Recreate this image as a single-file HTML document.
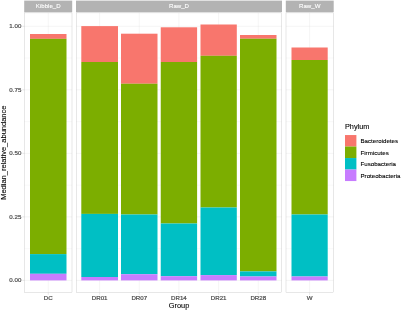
<!DOCTYPE html><html><head><meta charset="utf-8"><style>html,body{margin:0;padding:0;background:#fff}svg{display:block;will-change:transform;transform:translateZ(0)}text{font-family:"Liberation Sans",sans-serif;stroke-width:0.22px;paint-order:stroke}.t{stroke:#4D4D4D}.k{stroke:#000;stroke-width:0.1px}.w{stroke:#fff;stroke-width:0.1px}</style></head><body>
<svg width="401" height="311" viewBox="0 0 401 311">
<rect width="401" height="311" fill="#fff"/>
<line x1="24.4" x2="72.0" y1="248.64" y2="248.64" stroke="#DEDEDE" stroke-width="0.2"/>
<line x1="24.4" x2="72.0" y1="185.11" y2="185.11" stroke="#DEDEDE" stroke-width="0.2"/>
<line x1="24.4" x2="72.0" y1="121.59" y2="121.59" stroke="#DEDEDE" stroke-width="0.2"/>
<line x1="24.4" x2="72.0" y1="58.06" y2="58.06" stroke="#DEDEDE" stroke-width="0.2"/>
<line x1="24.4" x2="72.0" y1="280.40" y2="280.40" stroke="#DEDEDE" stroke-width="0.3"/>
<line x1="24.4" x2="72.0" y1="216.87" y2="216.87" stroke="#DEDEDE" stroke-width="0.3"/>
<line x1="24.4" x2="72.0" y1="153.35" y2="153.35" stroke="#DEDEDE" stroke-width="0.3"/>
<line x1="24.4" x2="72.0" y1="89.82" y2="89.82" stroke="#DEDEDE" stroke-width="0.3"/>
<line x1="24.4" x2="72.0" y1="26.30" y2="26.30" stroke="#DEDEDE" stroke-width="0.3"/>
<line x1="76.2" x2="281.8" y1="248.64" y2="248.64" stroke="#DEDEDE" stroke-width="0.2"/>
<line x1="76.2" x2="281.8" y1="185.11" y2="185.11" stroke="#DEDEDE" stroke-width="0.2"/>
<line x1="76.2" x2="281.8" y1="121.59" y2="121.59" stroke="#DEDEDE" stroke-width="0.2"/>
<line x1="76.2" x2="281.8" y1="58.06" y2="58.06" stroke="#DEDEDE" stroke-width="0.2"/>
<line x1="76.2" x2="281.8" y1="280.40" y2="280.40" stroke="#DEDEDE" stroke-width="0.3"/>
<line x1="76.2" x2="281.8" y1="216.87" y2="216.87" stroke="#DEDEDE" stroke-width="0.3"/>
<line x1="76.2" x2="281.8" y1="153.35" y2="153.35" stroke="#DEDEDE" stroke-width="0.3"/>
<line x1="76.2" x2="281.8" y1="89.82" y2="89.82" stroke="#DEDEDE" stroke-width="0.3"/>
<line x1="76.2" x2="281.8" y1="26.30" y2="26.30" stroke="#DEDEDE" stroke-width="0.3"/>
<line x1="286.0" x2="333.5" y1="248.64" y2="248.64" stroke="#DEDEDE" stroke-width="0.2"/>
<line x1="286.0" x2="333.5" y1="185.11" y2="185.11" stroke="#DEDEDE" stroke-width="0.2"/>
<line x1="286.0" x2="333.5" y1="121.59" y2="121.59" stroke="#DEDEDE" stroke-width="0.2"/>
<line x1="286.0" x2="333.5" y1="58.06" y2="58.06" stroke="#DEDEDE" stroke-width="0.2"/>
<line x1="286.0" x2="333.5" y1="280.40" y2="280.40" stroke="#DEDEDE" stroke-width="0.3"/>
<line x1="286.0" x2="333.5" y1="216.87" y2="216.87" stroke="#DEDEDE" stroke-width="0.3"/>
<line x1="286.0" x2="333.5" y1="153.35" y2="153.35" stroke="#DEDEDE" stroke-width="0.3"/>
<line x1="286.0" x2="333.5" y1="89.82" y2="89.82" stroke="#DEDEDE" stroke-width="0.3"/>
<line x1="286.0" x2="333.5" y1="26.30" y2="26.30" stroke="#DEDEDE" stroke-width="0.3"/>
<line x1="48.25" x2="48.25" y1="12.9" y2="292.7" stroke="#DEDEDE" stroke-width="0.3"/>
<line x1="99.65" x2="99.65" y1="12.9" y2="292.7" stroke="#DEDEDE" stroke-width="0.3"/>
<line x1="139.25" x2="139.25" y1="12.9" y2="292.7" stroke="#DEDEDE" stroke-width="0.3"/>
<line x1="178.93" x2="178.93" y1="12.9" y2="292.7" stroke="#DEDEDE" stroke-width="0.3"/>
<line x1="218.65" x2="218.65" y1="12.9" y2="292.7" stroke="#DEDEDE" stroke-width="0.3"/>
<line x1="258.25" x2="258.25" y1="12.9" y2="292.7" stroke="#DEDEDE" stroke-width="0.3"/>
<line x1="309.60" x2="309.60" y1="12.9" y2="292.7" stroke="#DEDEDE" stroke-width="0.3"/>
<rect x="30.0" y="34.00" width="36.50" height="4.85" fill="#F8766D"/>
<rect x="30.0" y="38.85" width="36.50" height="215.25" fill="#7CAE00"/>
<rect x="30.0" y="254.10" width="36.50" height="19.70" fill="#00BFC4"/>
<rect x="30.0" y="273.80" width="36.50" height="6.60" fill="#C77CFF"/>
<rect x="81.3" y="26.10" width="36.70" height="35.90" fill="#F8766D"/>
<rect x="81.3" y="62.00" width="36.70" height="151.90" fill="#7CAE00"/>
<rect x="81.3" y="213.90" width="36.70" height="63.10" fill="#00BFC4"/>
<rect x="81.3" y="277.00" width="36.70" height="3.40" fill="#C77CFF"/>
<rect x="121.0" y="33.70" width="36.50" height="50.05" fill="#F8766D"/>
<rect x="121.0" y="83.75" width="36.50" height="130.75" fill="#7CAE00"/>
<rect x="121.0" y="214.50" width="36.50" height="59.70" fill="#00BFC4"/>
<rect x="121.0" y="274.20" width="36.50" height="6.20" fill="#C77CFF"/>
<rect x="160.75" y="27.30" width="36.35" height="34.70" fill="#F8766D"/>
<rect x="160.75" y="62.00" width="36.35" height="161.50" fill="#7CAE00"/>
<rect x="160.75" y="223.50" width="36.35" height="52.70" fill="#00BFC4"/>
<rect x="160.75" y="276.20" width="36.35" height="4.20" fill="#C77CFF"/>
<rect x="200.5" y="24.50" width="36.30" height="31.30" fill="#F8766D"/>
<rect x="200.5" y="55.80" width="36.30" height="151.70" fill="#7CAE00"/>
<rect x="200.5" y="207.50" width="36.30" height="67.60" fill="#00BFC4"/>
<rect x="200.5" y="275.10" width="36.30" height="5.30" fill="#C77CFF"/>
<rect x="240.0" y="35.00" width="36.50" height="3.75" fill="#F8766D"/>
<rect x="240.0" y="38.75" width="36.50" height="232.65" fill="#7CAE00"/>
<rect x="240.0" y="271.40" width="36.50" height="5.10" fill="#00BFC4"/>
<rect x="240.0" y="276.50" width="36.50" height="3.90" fill="#C77CFF"/>
<rect x="291.5" y="47.50" width="36.20" height="12.50" fill="#F8766D"/>
<rect x="291.5" y="60.00" width="36.20" height="154.50" fill="#7CAE00"/>
<rect x="291.5" y="214.50" width="36.20" height="62.00" fill="#00BFC4"/>
<rect x="291.5" y="276.50" width="36.20" height="3.90" fill="#C77CFF"/>
<rect x="24.4" y="12.9" width="47.60" height="279.80" fill="none" stroke="#B3B3B3" stroke-width="0.32"/>
<rect x="24.2" y="0.6" width="48.00" height="11.60" fill="#B3B3B3"/>
<text x="48.20" y="8.4" font-size="6.1" class="w" fill="#fff" text-anchor="middle">Kibble_D</text>
<rect x="76.2" y="12.9" width="205.60" height="279.80" fill="none" stroke="#B3B3B3" stroke-width="0.32"/>
<rect x="76.0" y="0.6" width="206.00" height="11.60" fill="#B3B3B3"/>
<text x="179.00" y="8.4" font-size="6.1" class="w" fill="#fff" text-anchor="middle">Raw_D</text>
<rect x="286.0" y="12.9" width="47.50" height="279.80" fill="none" stroke="#B3B3B3" stroke-width="0.32"/>
<rect x="285.8" y="0.6" width="47.90" height="11.60" fill="#B3B3B3"/>
<text x="309.75" y="8.4" font-size="6.1" class="w" fill="#fff" text-anchor="middle">Raw_W</text>
<line x1="22.3" x2="24.4" y1="280.40" y2="280.40" stroke="#B3B3B3" stroke-width="0.3"/>
<text x="21.3" y="282.30" font-size="6.15" class="t" fill="#4D4D4D" text-anchor="end">0.00</text>
<line x1="22.3" x2="24.4" y1="216.87" y2="216.87" stroke="#B3B3B3" stroke-width="0.3"/>
<text x="21.3" y="218.77" font-size="6.15" class="t" fill="#4D4D4D" text-anchor="end">0.25</text>
<line x1="22.3" x2="24.4" y1="153.35" y2="153.35" stroke="#B3B3B3" stroke-width="0.3"/>
<text x="21.3" y="155.25" font-size="6.15" class="t" fill="#4D4D4D" text-anchor="end">0.50</text>
<line x1="22.3" x2="24.4" y1="89.82" y2="89.82" stroke="#B3B3B3" stroke-width="0.3"/>
<text x="21.3" y="91.72" font-size="6.15" class="t" fill="#4D4D4D" text-anchor="end">0.75</text>
<line x1="22.3" x2="24.4" y1="26.30" y2="26.30" stroke="#B3B3B3" stroke-width="0.3"/>
<text x="21.3" y="28.20" font-size="6.15" class="t" fill="#4D4D4D" text-anchor="end">1.00</text>
<line x1="48.25" x2="48.25" y1="292.7" y2="294.8" stroke="#B3B3B3" stroke-width="0.3"/>
<text x="48.25" y="300.3" font-size="6.15" class="t" fill="#4D4D4D" text-anchor="middle">DC</text>
<line x1="99.65" x2="99.65" y1="292.7" y2="294.8" stroke="#B3B3B3" stroke-width="0.3"/>
<text x="99.65" y="300.3" font-size="6.15" class="t" fill="#4D4D4D" text-anchor="middle">DR01</text>
<line x1="139.25" x2="139.25" y1="292.7" y2="294.8" stroke="#B3B3B3" stroke-width="0.3"/>
<text x="139.25" y="300.3" font-size="6.15" class="t" fill="#4D4D4D" text-anchor="middle">DR07</text>
<line x1="178.93" x2="178.93" y1="292.7" y2="294.8" stroke="#B3B3B3" stroke-width="0.3"/>
<text x="178.93" y="300.3" font-size="6.15" class="t" fill="#4D4D4D" text-anchor="middle">DR14</text>
<line x1="218.65" x2="218.65" y1="292.7" y2="294.8" stroke="#B3B3B3" stroke-width="0.3"/>
<text x="218.65" y="300.3" font-size="6.15" class="t" fill="#4D4D4D" text-anchor="middle">DR21</text>
<line x1="258.25" x2="258.25" y1="292.7" y2="294.8" stroke="#B3B3B3" stroke-width="0.3"/>
<text x="258.25" y="300.3" font-size="6.15" class="t" fill="#4D4D4D" text-anchor="middle">DR28</text>
<line x1="309.60" x2="309.60" y1="292.7" y2="294.8" stroke="#B3B3B3" stroke-width="0.3"/>
<text x="309.60" y="300.3" font-size="6.15" class="t" fill="#4D4D4D" text-anchor="middle">W</text>
<text x="179" y="308.3" font-size="7.4" class="k" fill="#000" text-anchor="middle">Group</text>
<text transform="translate(6.2,152.7) rotate(-90)" font-size="7.5" class="k" fill="#000" text-anchor="middle">Median_relative_abundance</text>
<text x="345" y="129.2" font-size="7.3" class="k" fill="#000">Phylum</text>
<rect x="345" y="135.05" width="11.4" height="11.5" fill="#F8766D"/>
<text x="360.5" y="143.00" font-size="6.15" class="k" fill="#000">Bacteroidetes</text>
<rect x="345" y="146.55" width="11.4" height="11.5" fill="#7CAE00"/>
<text x="360.5" y="154.50" font-size="6.15" class="k" fill="#000">Firmicutes</text>
<rect x="345" y="158.05" width="11.4" height="11.5" fill="#00BFC4"/>
<text x="360.5" y="166.00" font-size="6.15" class="k" fill="#000">Fusobacteria</text>
<rect x="345" y="169.55" width="11.4" height="11.5" fill="#C77CFF"/>
<text x="360.5" y="177.50" font-size="6.15" class="k" fill="#000">Proteobacteria</text>
</svg></body></html>
